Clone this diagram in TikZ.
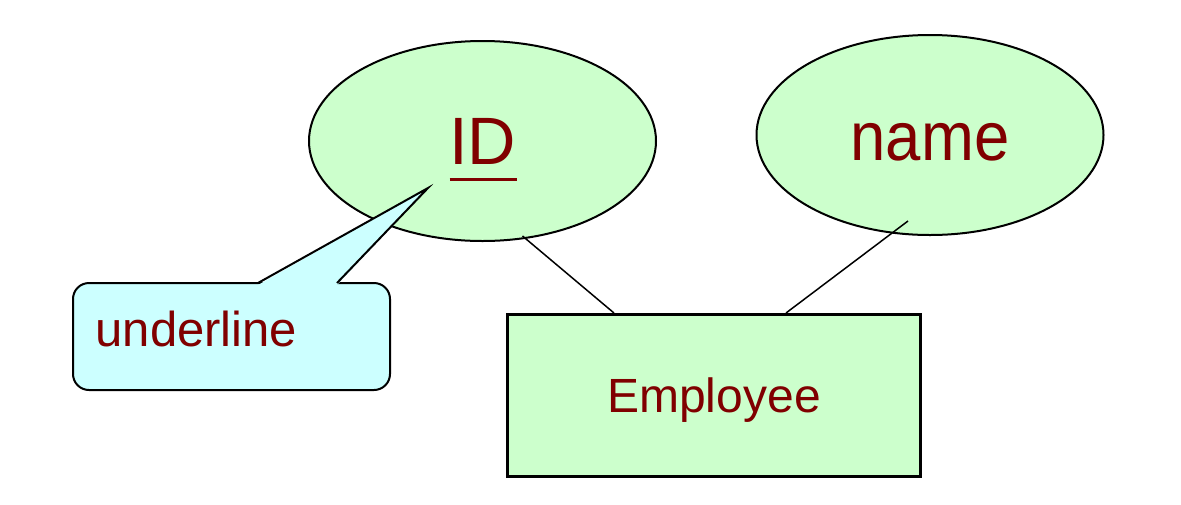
\documentclass[tikz,border=0pt]{standalone}
\usepackage{fontspec}
\setmainfont{Liberation Sans}
\usetikzlibrary{calc,shapes.geometric}
\definecolor{txtred}{HTML}{800000}
\definecolor{attrfill}{HTML}{CCFFCC}
\definecolor{notefill}{HTML}{CCFFFF}
\tikzset{
  attr/.style={ellipse, draw=black, line width=2pt, fill=attrfill,
    minimum width=347pt, minimum height=200pt, inner sep=0pt,
    text=txtred, font=\fontsize{67}{80}\selectfont},
  attrtxt/.style={anchor=base, inner sep=0pt, text=txtred,
    font=\fontsize{69}{80}\selectfont},
  entity/.style={rectangle, draw=black, line width=3pt, fill=attrfill,
    minimum width=413pt, minimum height=162pt, inner sep=0pt,
    text=txtred, text depth=0pt, font=\fontsize{48}{58}\selectfont},
  link/.style={draw=black, line width=1.5pt},
  notebox/.style={rectangle, draw=black, line width=2pt, fill=notefill,
    rounded corners=16pt, minimum width=317pt, minimum height=107pt, inner sep=0pt},
  notetxt/.style={anchor=base west, inner sep=0pt, text=txtred,
    font=\fontsize{49}{58}\selectfont},
  pointerline/.style={draw=black, line width=2pt, line join=miter},
}
\begin{document}
\begin{tikzpicture}[x=1pt,y=-1pt]
\useasboundingbox (0,0) rectangle (1181,504);
% attributes and entity
\node[attr] (id) at (482.5,141) {ID};
\node[attr] (name) at (930,135) {};
\node[attrtxt] (nametext) at (930,160) {\scalebox{0.92}[1]{name}};
\node[entity] (emp) at (714,395.5) {Employee};
% connectors
\draw[link] ($(id.center)+(40,95)$) -- ($(emp.north)+(-100,0)$);
\draw[link] ($(name.center)+(-22,86)$) -- ($(emp.north)+(72,0)$);
% underline of the key attribute
\draw[txtred, line width=3pt] ($(id.center)+(-33,38)$) -- ($(id.center)+(34,38)$);
% callout
\node[notebox] (note) at (231.5,336.5) {};
\coordinate (tip) at (428,188);
\coordinate (baseL) at (258,283);
\coordinate (baseR) at (337,283);
\fill[notefill] ($(baseL)+(0,2)$) -- (tip) -- ($(baseR)+(0,2)$) -- cycle;
\draw[pointerline] (baseL) -- (tip) -- (baseR);
\node[notetxt] (notetext) at (95.5,346) {underline};
\end{tikzpicture}
\end{document}
